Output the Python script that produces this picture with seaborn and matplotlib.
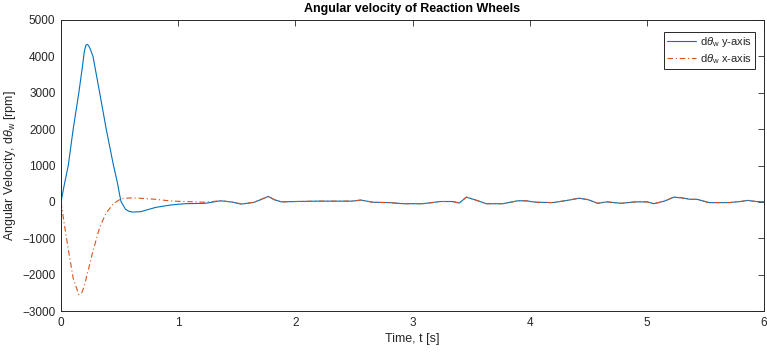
import numpy as np
import pandas as pd
import matplotlib
matplotlib.use("Agg")
import matplotlib.pyplot as plt
import seaborn as sns

# Time samples [s] and wheel angular velocities [rpm]
t = [0.0, 0.03, 0.062, 0.104, 0.152, 0.18, 0.2, 0.212, 0.222, 0.235, 0.25,
     0.273, 0.33, 0.386, 0.448, 0.48, 0.5, 0.513, 0.55, 0.58, 0.61, 0.68,
     0.81, 0.95, 1.06, 1.23, 1.36, 1.45, 1.54, 1.65, 1.77, 1.82, 1.88, 2.0,
     2.2, 2.48, 2.56, 2.66, 2.8, 2.92, 3.09, 3.24, 3.34, 3.4, 3.46, 3.53,
     3.63, 3.77, 3.9, 3.97, 4.05, 4.2, 4.32, 4.42, 4.5, 4.58, 4.66, 4.78,
     4.9, 5.0, 5.06, 5.15, 5.23, 5.3, 5.37, 5.43, 5.53, 5.7, 5.8, 5.86,
     5.93, 6.0]
w_y = [0, 500, 1000, 2000, 3000, 3650, 4150, 4300, 4330, 4300, 4200, 4000,
       3000, 2000, 1000, 550, 200, 0, -200, -260, -280, -270, -150, -80, -50,
       -40, 30, 0, -60, -10, 150, 60, 0, 10, 20, 20, 50, -10, -20, -50, -50,
       10, 10, -30, 130, 60, -50, -50, 30, 30, -10, -20, 40, 100, 60, -40, 0,
       -40, 0, 0, -50, 20, 130, 110, 70, 70, -20, -20, 10, 40, 10, 0]
w_x = [0, -650, -1300, -2100, -2550, -2480, -2300, -2150, -2000, -1850,
       -1650, -1350, -700, -300, -50, 20, 60, 80, 100, 105, 110, 100, 70, 20,
       10, -10, 30, 0, -60, -10, 150, 60, 0, 10, 20, 20, 50, -10, -20, -50,
       -50, 10, 10, -30, 130, 60, -50, -50, 30, 30, -10, -20, 40, 100, 60,
       -40, 0, -40, 0, 0, -50, 20, 130, 110, 70, 70, -20, -20, 10, 40, 10, 0]

series_labels = [r"d$\theta_{\rm w}$ y-axis", r"d$\theta_{\rm w}$ x-axis"]
x_ticks = [0, 1, 2, 3, 4, 5, 6]
y_ticks = [-3000, -2000, -1000, 0, 1000, 2000, 3000, 4000, 5000]

sns.set_theme(style="white")
plt.rcParams["font.family"] = ["Liberation Sans", "DejaVu Sans"]
plt.rcParams["mathtext.fontset"] = "custom"
plt.rcParams["mathtext.rm"] = "Liberation Sans"
plt.rcParams["mathtext.it"] = "Liberation Sans:italic"

df = pd.DataFrame({"t": t, "wy": w_y, "wx": w_x})

fig = plt.figure(figsize=(7.67, 3.54), dpi=100)
ax = fig.add_axes([61 / 767, 1 - 311 / 354, (764 - 61) / 767, (311 - 20) / 354])

sns.lineplot(data=df, x="t", y="wy", ax=ax, color="#0072BD", linewidth=0.8,
             label=series_labels[0])
sns.lineplot(data=df, x="t", y="wx", ax=ax, color="#D95319", linewidth=0.8,
             linestyle=(0, (5, 2.5, 1, 2.5)), label=series_labels[1])

ax.set_xlim(0, 6)
ax.set_ylim(-3000, 5000)
ax.set_xticks(x_ticks)
ax.set_yticks(y_ticks)
ax.tick_params(direction="in", length=4, width=0.6, colors="#262626",
               labelsize=8.5, top=True, right=True, pad=4,
               labelcolor="#262626")
for s in ax.spines.values():
    s.set_color("#262626")
    s.set_linewidth(0.7)

ax.set_xlabel("Time, t [s]", fontsize=9, color="#262626", labelpad=3)
ax.set_ylabel(r"Angular Velocity, d$\theta_{\rm w}$ [rpm]", fontsize=9,
              color="#262626", labelpad=3)
ax.set_title("Angular velocity of Reaction Wheels", fontsize=9,
             fontweight="bold", color="black", pad=6)

leg = ax.legend(loc="upper right", fontsize=8, frameon=True, fancybox=False,
                edgecolor="#262626", framealpha=1, handlelength=2.6,
                borderpad=0.3, labelspacing=0.25, handletextpad=0.3,
                borderaxespad=0, bbox_to_anchor=(0.987, 0.959))
leg.get_frame().set_linewidth(0.7)
for txt in leg.get_texts():
    txt.set_color("#262626")

fig.savefig("out.png", dpi=100)
